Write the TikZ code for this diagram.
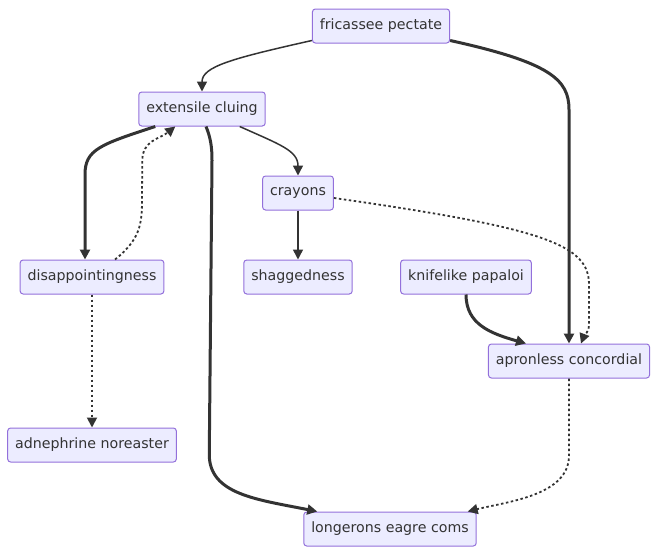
\documentclass[tikz,border=0pt]{standalone}
\usepackage{fontspec}
\setmainfont{DejaVu Sans}
\usetikzlibrary{arrows.meta,calc}
\definecolor{boxfill}{HTML}{ECECFF}
\definecolor{boxline}{HTML}{9370DB}
\definecolor{ink}{HTML}{333333}
\tikzset{
  box/.style={draw=boxline, line width=1pt, fill=boxfill, rounded corners=3pt,
    minimum height=34pt, inner xsep=7.5pt, inner ysep=0pt, text=ink,
    font=\fontsize{14.2}{17}\selectfont},
  link/.style={draw=ink, line width=1.5pt, -{Triangle[length=10pt,width=10pt]}},
  heavy/.style={link, line width=3pt},
  dots/.style={link, line width=1.8pt, dash pattern=on 2.5pt off 2.5pt}
}
\begin{document}
\begin{tikzpicture}[x=1pt,y=1pt]
\useasboundingbox (0,0) rectangle (658,-554);
\draw (381,-26) node[box](FP){fricassee pectate}
(202,-109) node[box](EC){extensile cluing}
(298,-193) node[box](CR){crayons};
\draw (92,-277) node[box](DI){disappointingness}
(298,-277) node[box](SH){shaggedness}
(466,-277) node[box](KP){knifelike papaloi}
(569,-361) node[box](AC){apronless concordial}
(92,-445) node[box](AN){adnephrine noreaster}
(390,-529) node[box](LE){longerons eagre coms};
% from the top
\draw [link] ($(FP.south west)+(0,3)$) .. controls +(-80,-18) and +(0,25) .. (EC.north);
\draw [heavy] ($(FP.south east)+(0,3)$) .. controls +(100,-22) and +(0,30) .. ($(AC.north)+(0,234)$) -- (AC.north);
% out of extensile cluing
\draw [link] ($(EC.south east)+(-26,0)$) .. controls +(40,-18) and +(0,25) .. (CR.north);
\draw [heavy] ($(EC.south west)+(17,0)$) .. controls +(-55,-18) and +(0,25) .. ($(DI.north)+(-7,85)$) -- ($(DI.north)+(-7,0)$);
\draw [dots] ($(DI.north)+(23,0)$) .. controls +(25,20) and +(0,-25) .. ($(DI.north)+(50,60)$) -- ($(EC.south west)+(4,-34)$) .. controls +(0,20) and +(-15,-12) .. ($(EC.south west)+(37,0)$);
\draw [heavy] ($(EC.south)+(4,0)$) .. controls +(5,-12) and +(0,12) .. ($(EC.south)+(10,-34)$) -- ($(LE.north west)+(-94,57)$) .. controls +(0,-40) and +(-60,12) .. ($(LE.north west)+(14,0)$);
% the rest
\draw [link] (CR.south) -- (SH.north);
\draw [dots] ($(CR.east)+(0,-5)$) .. controls +(210,-30) and +(0,40) .. ($(AC.north)+(20,59)$) -- ($(AC.north)+(20,19)$) .. controls +(0,-8) and +(3,8) .. ($(AC.north)+(12,0)$);
\draw [heavy] (KP.south) .. controls +(0,-30) and +(-35,10) .. ($(AC.north west)+(38,0)$);
\draw [dots] (DI.south) -- (AN.north);
\draw [dots] (AC.south) -- ($(AC.south)+(0,-77)$) .. controls +(0,-40) and +(40,10) .. ($(LE.north east)+(-9,0)$);
\end{tikzpicture}
\end{document}
